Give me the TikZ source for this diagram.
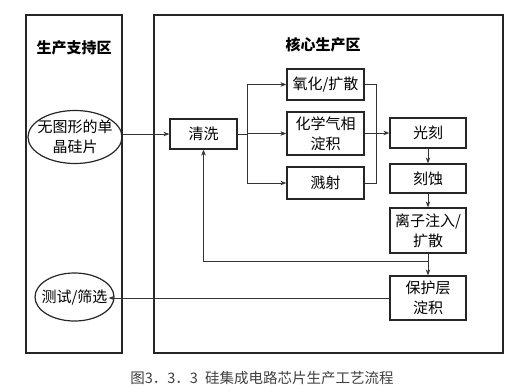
\documentclass[tikz,border=0pt]{standalone}
\usepackage{fontspec}
\setmainfont{Noto Sans CJK SC}
\usetikzlibrary{arrows.meta,shapes.geometric}
\begin{document}
\begin{tikzpicture}[x=1pt,y=-1pt,
  lbl/.style={font=\fontsize{15}{20}\selectfont, align=center, inner sep=0pt},
  panel/.style={draw=black!85, line width=1.3pt, inner sep=0pt},
  box/.style={lbl, draw=black!85, line width=1.2pt},
  oval/.style={ellipse, draw=black!85, line width=1.2pt, inner sep=0pt},
  title/.style={font=\fontsize{15}{20}\selectfont\bfseries, inner sep=0pt},
  ln/.style={draw=black!80, line width=1pt},
  arr/.style={ln, -{Stealth[length=6pt,width=4.5pt]}}
]
\useasboundingbox (0,0) rectangle (526,391);
% panels
\node[panel, minimum width=96pt, minimum height=338pt] (lp) at (74,184) {};
\node[panel, minimum width=349pt, minimum height=338pt] (rp) at (328.5,184) {};
\node[title] (t1) at (74,48) {生产支持区};
\node[title] (t2) at (323,45) {核心生产区};
% nodes
\node[oval, minimum width=94pt, minimum height=53pt,
      label={[lbl]center:无图形的单\\晶硅片}] (e1) at (75,137) {};
\node[oval, minimum width=79pt, minimum height=48pt,
      label={[lbl]center:测试/筛选}] (e2) at (74.5,297) {};
\node[box, minimum width=67pt, minimum height=30pt] (qx) at (203.5,134) {清洗};
\node[box, minimum width=77pt, minimum height=31pt] (yh) at (325.5,84.5) {氧化/扩散};
\node[box, minimum width=77pt, minimum height=43pt] (hx) at (325.5,133.5) {化学气相\\淀积};
\node[box, minimum width=77pt, minimum height=32pt] (js) at (325.5,183) {溅射};
\node[box, minimum width=76pt, minimum height=30pt] (gk) at (428,133) {光刻};
\node[box, minimum width=76pt, minimum height=29pt] (ks) at (428,178.5) {刻蚀};
\node[box, minimum width=76pt, minimum height=45pt] (lz) at (428,230.5) {离子注入/\\扩散};
\node[box, minimum width=76pt, minimum height=44pt] (bh) at (428,298) {保护层\\淀积};
% helper coordinates
\coordinate (sp) at (247,0);
\coordinate (mg) at (376,0);
\coordinate (fb) at (428,261);
% connectors
\draw[arr] (qx.west -| e1.east) -- (qx.west);
\draw[ln] (qx.east) -- (qx.east -| sp);
\draw[ln] (yh.west -| sp) -- (js.west -| sp);
\draw[arr] (yh.west -| sp) -- (yh.west);
\draw[arr] (hx.west -| sp) -- (hx.west);
\draw[arr] (js.west -| sp) -- (js.west);
\draw[ln] (yh.east) -- (yh.east -| mg) -- (js.east -| mg) -- (js.east);
\draw[ln] (hx.east) -- (hx.east -| mg);
\draw[arr] (gk.west -| mg) -- (gk.west);
\draw[arr] (gk.south) -- (ks.north);
\draw[arr] (ks.south) -- (lz.north);
\draw[arr] (lz.south) -- (bh.north);
\draw[arr] (fb) -- (fb -| qx.south) -- (qx.south);
\draw[arr, shorten >=-6pt] (bh.west) -- (e2.east |- bh.west);
% caption
\node[font=\fontsize{14.5}{18}\selectfont, text=black!75, inner sep=0pt] (cap) at (262,378) {图3．3．3\hspace{0.5em}硅集成电路芯片生产工艺流程};
\end{tikzpicture}
\end{document}
